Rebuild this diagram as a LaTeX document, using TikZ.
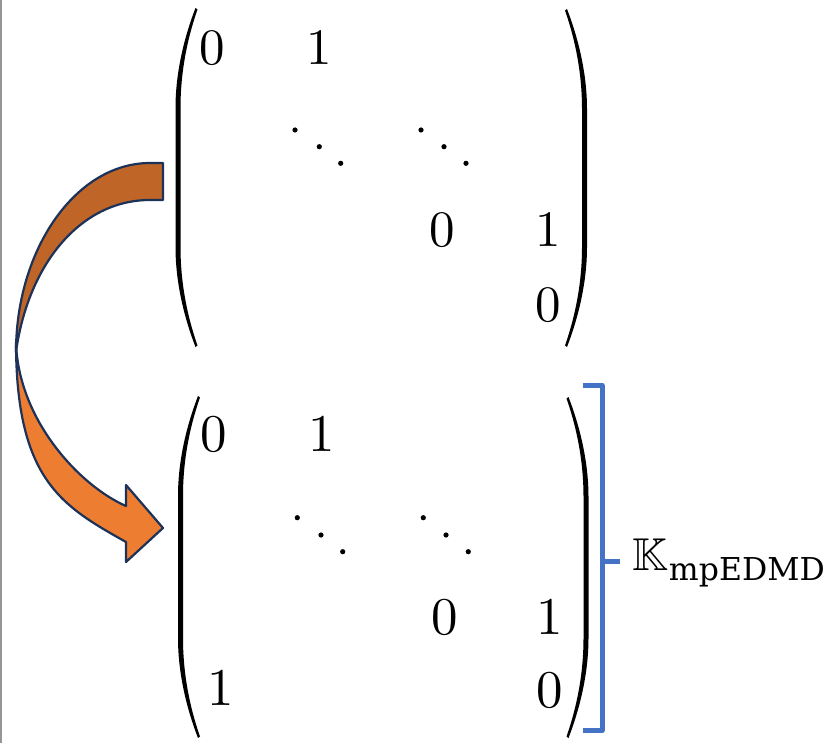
\documentclass[tikz,border=0pt]{standalone}
\usepackage{amssymb}
\usepackage{fontspec}
\newfontfamily\subfont{DejaVu Serif}
\definecolor{arrowdark}{RGB}{191,101,39}
\definecolor{arroworange}{RGB}{237,125,49}
\definecolor{arrowline}{RGB}{28,50,88}
\definecolor{bracketblue}{RGB}{68,114,196}
\definecolor{edgegray}{RGB}{150,150,150}
% left/right parenthesis: #1 stem x, #2 direction (1 or -1), #3 top y, #4 bottom y, #5 width
\newcommand\myparen[5]{%
  \fill ({#1+#5*#2},{#3}) .. controls ({#1+8*#2},{#3+31}) and ({#1},{#3+66}) .. ({#1},{#3+100})
     -- ({#1},{#4-100}) .. controls ({#1},{#4-66}) and ({#1+8*#2},{#4-31}) .. ({#1+#5*#2},{#4})
     -- ({#1+#5*#2+2*#2},{#4-1.5}) .. controls ({#1+11*#2},{#4-33}) and ({#1+5*#2},{#4-66}) .. ({#1+5*#2},{#4-100})
     -- ({#1+5*#2},{#3+100}) .. controls ({#1+5*#2},{#3+66}) and ({#1+11*#2},{#3+33}) .. ({#1+#5*#2+2*#2},{#3+1.5})
     -- cycle;}
\begin{document}
\begin{tikzpicture}[x=1pt,y=-1pt,
  entrytop/.style={inner sep=0pt, scale=5.1},
  entrybot/.style={inner sep=0pt, scale=5.3},
  band/.style={draw=arrowline, line width=2.2pt, line join=round}]
\useasboundingbox (0,0) rectangle (832,743);
\draw[edgegray, line width=1.5pt] (0.75,0) -- (0.75,743);

% ---- top matrix ----
\myparen{175.5}{1}{8}{347}{20}
\myparen{587}{-1}{9}{347}{20}
\node[entrytop] (t11) at (212,48) {0};
\node[entrytop] (t12) at (319,48) {1};
\node[entrytop] (t33) at (442,230) {0};
\node[entrytop] (t34) at (548,230) {1};
\node[entrytop] (t44) at (548,305) {0};
\foreach \x/\y in {295/130, 319.3/146.7, 340.7/163.3, 421/130, 444/146.7, 466/163.3}
  \fill (\x,\y) circle[radius=2.6];

% ---- bottom matrix ----
\myparen{178}{1}{396}{738}{20}
\myparen{588.5}{-1}{397}{738}{20}
\node[entrybot] (b11) at (214,434) {0};
\node[entrybot] (b12) at (322,434) {1};
\node[entrybot] (b33) at (445,617) {0};
\node[entrybot] (b34) at (550,617) {1};
\node[entrybot] (b41) at (221,688) {1};
\node[entrybot] (b44) at (550,690) {0};
\foreach \x/\y in {297.3/517.7, 321/535, 342.7/551.7, 423.3/517.7, 446/535, 468.3/551.7}
  \fill (\x,\y) circle[radius=2.6];

% ---- curved block arrow ----
\filldraw[band, fill=arrowdark]
  (163,163) -- (150,163) .. controls (76,163) and (16,249) .. (16,352)
  .. controls (28,265) and (80,200) .. (150,200) -- (163,200) -- cycle;
\filldraw[band, fill=arroworange]
  (16,342) .. controls (16,480) and (62,506) .. (126,542) -- (126,562) -- (163,528)
  -- (126,485) -- (126,506) .. controls (80,486) and (18,420) .. (16,342) -- cycle;

% ---- bracket and label ----
\draw[bracketblue, line width=5pt, line join=round]
  (583,385.5) -- (602,385.5) -- (602,730.5) -- (583,730.5);
\draw[bracketblue, line width=5pt] (602,561.5) -- (620,561.5);
\node[anchor=base west, inner sep=0pt] (K) at (632,570)
  {\fontsize{46}{50}\selectfont$\mathbb{K}$\hspace{1pt}\raisebox{-10pt}{\subfont\fontsize{31.5}{34}\selectfont mpEDMD}};
\end{tikzpicture}
\end{document}
